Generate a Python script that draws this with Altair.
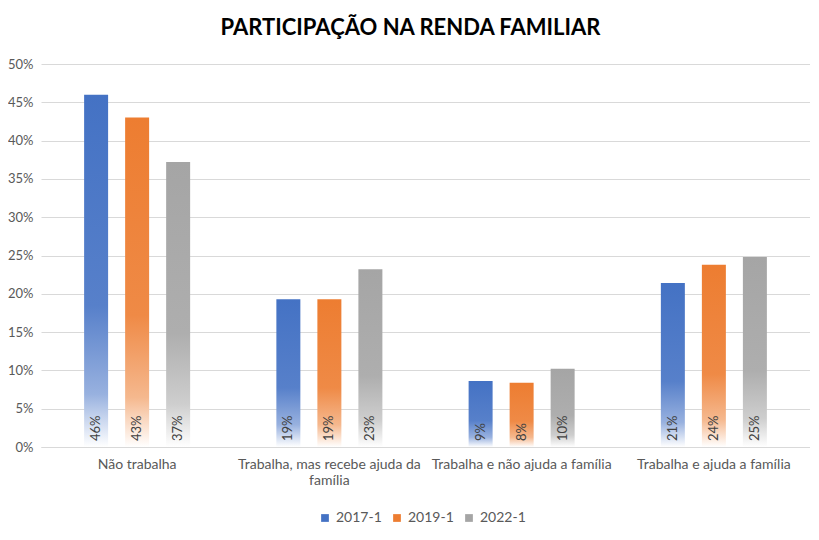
import altair as alt
import pandas as pd

categories = ["Não trabalha", "Trabalha, mas recebe ajuda da família",
              "Trabalha e não ajuda a família", "Trabalha e ajuda a família"]
series = ["2017-1", "2019-1", "2022-1"]
v2017 = [0.460, 0.193, 0.086, 0.214]
v2019 = [0.430, 0.193, 0.084, 0.238]
v2022 = [0.372, 0.232, 0.102, 0.248]
colors = ["#4472C4", "#ED7D31", "#A5A5A5"]

rows = []
for s, vals in zip(series, [v2017, v2019, v2022]):
    for c, v in zip(categories, vals):
        rows.append({"cat": c, "s": s, "v": v})
df = pd.DataFrame(rows)


def mix(hexc, t):
    r, g, b = int(hexc[1:3], 16), int(hexc[3:5], 16), int(hexc[5:7], 16)
    r = round(r + (255 - r) * t)
    g = round(g + (255 - g) * t)
    b = round(b + (255 - b) * t)
    return "#%02x%02x%02x" % (r, g, b)


def grad(c):
    return {"gradient": "linear", "x1": 0, "y1": 0, "x2": 0, "y2": 1,
            "stops": [{"offset": 0, "color": c},
                      {"offset": 0.6, "color": mix(c, 0.1)},
                      {"offset": 0.85, "color": mix(c, 0.45)},
                      {"offset": 1, "color": "#ffffff"}]}


FONT = "Lato"
x_enc = alt.X("cat:N", sort=categories, title=None,
              scale=alt.Scale(paddingInner=0.36, paddingOuter=0.18),
              axis=alt.Axis(labelAngle=0, labelFontSize=14, labelColor="#595959",
                            labelPadding=10, ticks=False, domainColor="#d9d9d9",
                            labelOverlap=False, labelLimit=400, labelFont=FONT,
                            labelExpr="datum.label == 'Trabalha, mas recebe ajuda da família' ? ['Trabalha, mas recebe ajuda da', 'família'] : datum.label"))
xo_enc = alt.XOffset("s:N", scale=alt.Scale(domain=series, paddingInner=0.415, paddingOuter=0.2075))
y_scale = alt.Scale(domain=[0, 0.5], nice=False)
y_axis = alt.Axis(format=".0%", tickCount=10,
                  labelFontSize=13, labelColor="#595959", labelPadding=8,
                  ticks=False, domain=False, gridColor="#d9d9d9",
                  labelOverlap=False, labelFont=FONT)
y_enc = alt.Y("v:Q", title=None, scale=y_scale, axis=y_axis)
y_zero = alt.YDatum(0, title=None, scale=y_scale, axis=y_axis)

base = alt.Chart(df)
layers = []
for s, c in zip(series, colors):
    layers.append(
        base.transform_filter(alt.datum.s == s)
        .mark_bar(color=grad(c))
        .encode(x=x_enc, xOffset=xo_enc, y=y_enc)
    )

legend_layer = base.mark_point(opacity=0, shape="square", filled=True).encode(
    x=x_enc, xOffset=xo_enc, y=y_zero,
    color=alt.Color("s:N", scale=alt.Scale(domain=series, range=colors),
                    legend=alt.Legend(title=None, orient="none", direction="horizontal",
                                      legendX=277, legendY=447, symbolOpacity=1,
                                      symbolType="square", symbolSize=60,
                                      labelFontSize=14, labelColor="#595959",
                                      labelFont=FONT, columnPadding=8))
)

text_layer = base.mark_text(angle=270, align="left", baseline="middle", dx=6,
                            fontSize=13, color="#404040", font=FONT).encode(
    x=x_enc, xOffset=xo_enc, y=y_zero,
    text=alt.Text("v:Q", format=".0%"))

chart = alt.layer(*layers, legend_layer, text_layer).properties(
    width=769, height=383,
    autosize=alt.AutoSizeParams(type="none"),
    padding={"left": 33, "top": 56, "right": 0, "bottom": 80},
    title=alt.TitleParams("PARTICIPAÇÃO NA RENDA FAMILIAR", fontSize=22,
                          fontWeight="bold", font=FONT, color="#000000",
                          anchor="middle", offset=18, dx=-15),
).configure_view(stroke=None)

chart.save("out.html", embed_options={"renderer": "svg", "actions": False})
